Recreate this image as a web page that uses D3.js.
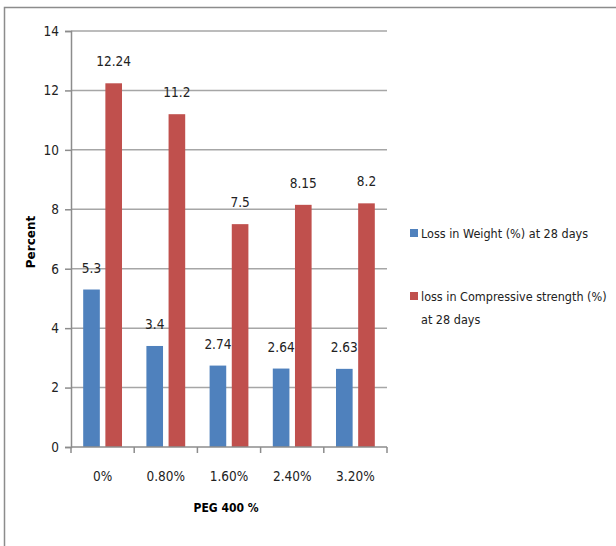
<!DOCTYPE html>
<html>
<head>
<meta charset="utf-8">
<script src="https://cdn.jsdelivr.net/npm/d3@7"></script>
<style>
  body { margin: 0; background: #fff; }
  svg text { font-family: "DejaVu Sans Condensed", "DejaVu Sans", sans-serif; font-stretch: condensed; }
</style>
</head>
<body>
<svg id="chart" width="616" height="546"></svg>
<script>
// data
let categories = ["0%", "0.80%", "1.60%", "2.40%", "3.20%"];
let lossWeight = [5.3, 3.4, 2.74, 2.64, 2.63];
let lossStrength = [12.24, 11.2, 7.5, 8.15, 8.2];
let seriesNames = ["Loss in Weight (%) at 28 days", "loss in Compressive strength (%)|at 28 days"];
let colors = ["#4f81bd", "#c0504d"];
let yTicks = [0, 2, 4, 6, 8, 10, 12, 14];

let svg = d3.select("#chart");

// outer frame
svg.append("path")
  .attr("d", "M4.5,546 V7.5 H616")
  .attr("fill", "none")
  .attr("stroke", "#8c8c8c")
  .attr("stroke-width", 1.5);

let x0 = 71, x1 = 387, yTop = 31, yBot = 447;
let fs = 13.5;

let x = d3.scaleBand().domain(categories).range([x0, x1]).paddingInner(0).paddingOuter(0);
let y = d3.scaleLinear().domain([0, 14]).range([yBot, yTop]);
let xs = d3.scaleBand().domain([0, 1]).range([0, x.bandwidth()]).paddingInner(0.25).paddingOuter(0.55);

// gridlines
svg.append("g").selectAll("line")
  .data(yTicks.filter(d => d > 0))
  .enter().append("line")
  .attr("x1", x0).attr("x2", x1)
  .attr("y1", d => y(d)).attr("y2", d => y(d))
  .attr("stroke", "#a6a6a6").attr("stroke-width", 1.5);

// y axis
let yAxis = svg.append("g")
  .attr("transform", `translate(${x0},0)`)
  .call(d3.axisLeft(y).tickValues(yTicks).tickSize(6).tickPadding(6));
yAxis.select(".domain").attr("stroke", "#8c8c8c").attr("stroke-width", 1.5);
yAxis.selectAll(".tick line").attr("stroke", "#8c8c8c").attr("stroke-width", 1.5);
yAxis.selectAll(".tick text").attr("font-size", fs).attr("fill", "#222")
  .style("font-family", "'DejaVu Sans Condensed', sans-serif");

// bars
let series = [lossWeight, lossStrength];
let groups = svg.append("g").selectAll("g")
  .data(categories)
  .enter().append("g")
  .attr("transform", d => `translate(${x(d)},0)`);

groups.selectAll("rect")
  .data((d, i) => series.map((s, k) => ({k: k, v: s[i]})))
  .enter().append("rect")
  .attr("x", d => xs(d.k))
  .attr("width", xs.bandwidth())
  .attr("y", d => y(d.v))
  .attr("height", d => y(0) - y(d.v))
  .attr("fill", d => colors[d.k]);

groups.selectAll("text")
  .data((d, i) => series.map((s, k) => ({k: k, v: s[i]})))
  .enter().append("text")
  .attr("x", d => xs(d.k) + xs.bandwidth() / 2)
  .attr("y", d => y(d.v) - 17)
  .attr("text-anchor", "middle")
  .attr("font-size", fs)
  .attr("fill", "#222")
  .text(d => d.v);

// x axis
let xAxis = svg.append("g")
  .attr("transform", `translate(0,${yBot})`)
  .call(d3.axisBottom(x).tickSize(0).tickPadding(24));
xAxis.select(".domain").remove();
xAxis.append("line").attr("x1", x0).attr("x2", x1).attr("stroke", "#8c8c8c").attr("stroke-width", 1.5);
xAxis.selectAll(".xt").data(categories.concat(["end"]))
  .enter().append("line")
  .attr("class", "xt")
  .attr("x1", (d, i) => i < categories.length ? x(d) : x1)
  .attr("x2", (d, i) => i < categories.length ? x(d) : x1)
  .attr("y1", 0).attr("y2", 6)
  .attr("stroke", "#8c8c8c").attr("stroke-width", 1.5);
xAxis.selectAll(".tick text").attr("font-size", fs).attr("fill", "#222")
  .style("font-family", "'DejaVu Sans Condensed', sans-serif");

// axis titles
svg.append("text")
  .attr("x", (x0 + x1) / 2 - 3).attr("y", 512)
  .attr("text-anchor", "middle")
  .attr("font-size", 12).attr("font-weight", "bold")
  .text("PEG 400 %");

svg.append("text")
  .attr("transform", `translate(35,${(yTop + yBot) / 2 + 3}) rotate(-90)`)
  .attr("text-anchor", "middle")
  .attr("font-size", 12).attr("font-weight", "bold")
  .style("font-family", "'DejaVu Sans', sans-serif")
  .style("font-stretch", "normal")
  .text("Percent");

// legend
let legend = svg.append("g").attr("transform", "translate(410,0)");
let legY = [233, 296];
seriesNames.forEach((name, i) => {
  legend.append("rect")
    .attr("x", 0).attr("y", legY[i] - 4)
    .attr("width", 8).attr("height", 8)
    .attr("fill", colors[i]);
  let t = legend.append("text")
    .attr("x", 11).attr("y", legY[i] + 5)
    .attr("font-size", 12.5).attr("fill", "#222");
  name.split("|").forEach((line, j) => {
    t.append("tspan").attr("x", 11).attr("dy", j === 0 ? 0 : 23).text(line);
  });
});
</script>
</body>
</html>
